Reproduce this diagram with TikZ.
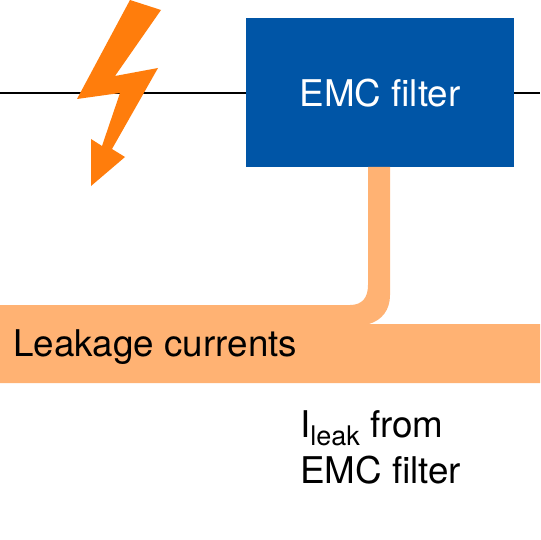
\documentclass[tikz,border=0pt]{standalone}
\usepackage{fontspec}
\setmainfont{TeX Gyre Heros}
\definecolor{emcblue}{HTML}{0055A6}
\definecolor{leak}{HTML}{FFB273}
\definecolor{bolt}{HTML}{FF7D0C}
\tikzset{
  wire/.style={draw=black,line width=1.5pt},
  label/.style={font=\fontsize{36.8}{47}\selectfont,text=black,inner sep=0pt,align=left},
}
\begin{document}
\begin{tikzpicture}[x=1pt,y=-1pt]
\useasboundingbox (0,0) rectangle (540,540);
\fill[white] (0,0) rectangle (540,540);
\coordinate (wl) at (0,93);
\coordinate (wr) at (540,93);
\node[fill=emcblue,minimum width=268pt,minimum height=149pt,inner sep=0pt,outer sep=0pt,anchor=north west,text=white,font=\fontsize{36.8}{40}\selectfont] (emc) at (246,18.5) {EMC filter};
\draw[wire] (wl) -- (emc.west);
\draw[wire] (emc.east) -- (wr);
\fill[bolt] (130,0) -- (161,10) -- (115,76) -- (158,68) -- (112,149) -- (125,157) -- (91,186) -- (91,139) -- (102,146) -- (120,93) -- (77,99) -- cycle;
\fill[leak] (0,305) -- (350,305) .. controls (362,305) and (368,298) .. (368,285) -- (368,167) -- (390,167) -- (390,295) .. controls (390,310) and (382,320) .. (369,324) -- (540,324) -- (540,383) -- (0,383) -- cycle;
\node[label,anchor=base west] (lk) at (13,356) {Leakage currents};
\node[label,anchor=base west] (il) at (300,437) {I\raisebox{-8pt}{\fontsize{27}{30}\selectfont leak} from};
\node[label,anchor=base west] (ef) at (300,483) {EMC filter};
\end{tikzpicture}
\end{document}
